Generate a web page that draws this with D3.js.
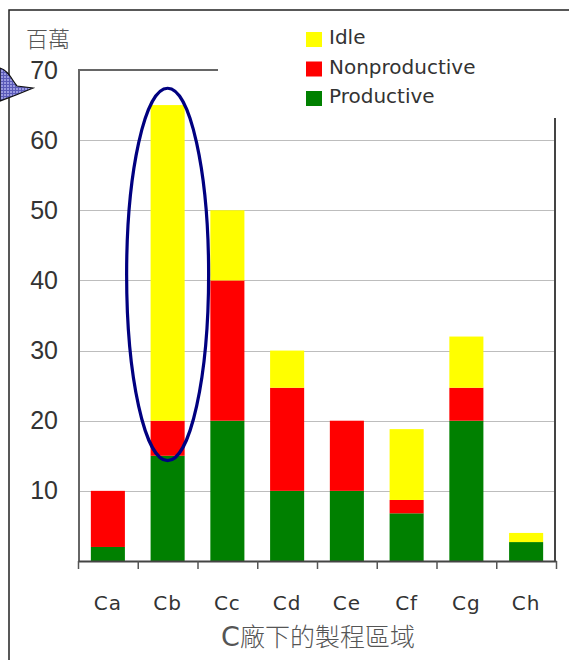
<!DOCTYPE html>
<html>
<head>
<meta charset="utf-8">
<script src="https://cdn.jsdelivr.net/npm/d3@7"></script>
<style>
  body { margin: 0; background: #fff; }
  svg { display: block; }
</style>
</head>
<body>
<svg id="chart" width="569" height="660"></svg>
<script>
// values in 百萬
const categories = ["Ca", "Cb", "Cc", "Cd", "Ce", "Cf", "Cg", "Ch"];
const productive = [2, 15, 20, 10, 10, 6.8, 20, 2.7];
const nonproductive = [8, 5, 20, 14.7, 10, 1.9, 4.7, 0];
const idle = [0, 45, 10, 5.3, 0, 10.1, 7.3, 1.3];
const yTicks = [10, 20, 30, 40, 50, 60, 70];
const seriesNames = ["Productive", "Nonproductive", "Idle"];
const seriesColors = ["#008000", "#ff0000", "#ffff00"];

const svg = d3.select("#chart");
const plotLeft = 78, plotRight = 556, plotTop = 70, plotBottom = 561;

const x = d3.scaleBand()
    .domain(categories)
    .range([plotLeft, plotRight])
    .paddingInner(0.43)
    .paddingOuter(0.215);

const y = d3.scaleLinear().domain([0, 70]).range([plotBottom, plotTop]);

const rows = categories.map((c, i) => ({
    cat: c,
    Productive: productive[i],
    Nonproductive: nonproductive[i],
    Idle: idle[i]
}));
const stacked = d3.stack().keys(seriesNames)(rows);

// outer frame of the slide
svg.append("path")
    .attr("d", "M9,660 L9,10 L569,10")
    .attr("fill", "none")
    .attr("stroke", "#222")
    .attr("stroke-width", 1.5);

// callout pointer at the left edge
const defs = svg.append("defs");
const pat = defs.append("pattern")
    .attr("id", "hatch")
    .attr("width", 3)
    .attr("height", 3)
    .attr("patternUnits", "userSpaceOnUse");
pat.append("rect").attr("width", 3).attr("height", 3).attr("fill", "#9a9ae0");
pat.append("path").attr("d", "M0,0.5 H3 M0.5,0 V3").attr("stroke", "#5a5ab8").attr("stroke-width", 1);

svg.append("path")
    .attr("d", "M0,68 C8,70 12,80 17,86 L33,88 L16,95 L0,101 Z")
    .attr("fill", "url(#hatch)")
    .attr("stroke", "#111")
    .attr("stroke-width", 1.2);

// gridlines
svg.append("g")
    .selectAll("line")
    .data(yTicks.filter(d => d < 70))
    .enter()
    .append("line")
    .attr("x1", plotLeft)
    .attr("x2", plotRight - 1)
    .attr("y1", d => Math.round(y(d)) + 0.5)
    .attr("y2", d => Math.round(y(d)) + 0.5)
    .attr("stroke", "#bdbdbd")
    .attr("stroke-width", 1);

// plot frame pieces (top and right)
svg.append("line")
    .attr("x1", plotLeft).attr("x2", 218)
    .attr("y1", plotTop).attr("y2", plotTop)
    .attr("stroke", "#666").attr("stroke-width", 2);
svg.append("line")
    .attr("x1", plotRight - 1).attr("x2", plotRight - 1)
    .attr("y1", 118).attr("y2", plotBottom)
    .attr("stroke", "#444").attr("stroke-width", 2);

// bars
svg.append("g")
    .selectAll("g")
    .data(stacked)
    .enter()
    .append("g")
    .attr("fill", (d, i) => seriesColors[i])
    .selectAll("rect")
    .data(d => d.map(v => ({ v, cat: v.data.cat })))
    .enter()
    .append("rect")
    .attr("x", d => x(d.cat))
    .attr("width", x.bandwidth())
    .attr("y", d => y(d.v[1]))
    .attr("height", d => y(d.v[0]) - y(d.v[1]));

// left axis
const yAxis = svg.append("g")
    .attr("transform", `translate(${plotLeft + 1},0)`)
    .call(d3.axisLeft(y).tickValues(yTicks).tickSize(0).tickPadding(21));
yAxis.select(".domain")
    .attr("d", `M0,${plotTop}V${plotBottom}`)
    .attr("stroke", "#666")
    .attr("stroke-width", 2);
yAxis.selectAll("text")
    .attr("font-family", "Liberation Sans, Arial, sans-serif")
    .attr("font-size", 25)
    .attr("fill", "#333");

// bottom axis: ticks sit between the bars
const xEdge = d3.scaleLinear().domain([0, categories.length]).range([plotLeft, plotRight]);
const xTickAxis = svg.append("g")
    .attr("transform", `translate(0,${plotBottom})`)
    .call(d3.axisBottom(xEdge).ticks(categories.length).tickSize(8).tickSizeOuter(0).tickFormat(""));
xTickAxis.select(".domain").attr("stroke", "#444").attr("stroke-width", 2);
xTickAxis.selectAll(".tick line").attr("stroke", "#555").attr("stroke-width", 1.5);

const xAxis = svg.append("g")
    .attr("transform", `translate(0,${plotBottom})`)
    .call(d3.axisBottom(x).tickSize(0).tickPadding(35));
xAxis.select(".domain").remove();
xAxis.selectAll("text")
    .attr("font-family", "DejaVu Sans, sans-serif")
    .attr("font-size", 20)
    .attr("letter-spacing", 1)
    .attr("fill", "#333");

// unit label
svg.append("text")
    .attr("x", 26)
    .attr("y", 47)
    .attr("font-family", "Noto Sans CJK TC, sans-serif")
    .attr("font-size", 22)
    .attr("font-weight", 300)
    .attr("fill", "#555")
    .text("百萬");

// x title
const title = svg.append("text")
    .attr("x", 318)
    .attr("y", 646)
    .attr("text-anchor", "middle")
    .attr("fill", "#555");
title.append("tspan")
    .attr("font-family", "DejaVu Sans, sans-serif")
    .attr("font-size", 27)
    .text("C");
title.append("tspan")
    .attr("font-family", "Noto Sans CJK TC, sans-serif")
    .attr("font-size", 25)
    .attr("font-weight", 300)
    .text("廠下的製程區域");

// legend (covers part of the top frame)
svg.append("rect")
    .attr("x", 219).attr("y", 11)
    .attr("width", 350).attr("height", 106)
    .attr("fill", "#fff");

const legendItems = ["Idle", "Nonproductive", "Productive"];
const legendColors = ["#ffff00", "#ff0000", "#008000"];
const legend = svg.append("g")
    .selectAll("g")
    .data(legendItems)
    .enter()
    .append("g")
    .attr("transform", (d, i) => `translate(306,${32 + i * 29.5})`);
legend.append("rect")
    .attr("width", 16)
    .attr("height", 15)
    .attr("fill", (d, i) => legendColors[i]);
legend.append("text")
    .attr("x", 23)
    .attr("y", 12)
    .attr("font-family", "DejaVu Sans, sans-serif")
    .attr("font-size", 20)
    .attr("fill", "#333")
    .text(d => d);

// highlight ellipse around Cb
const cx = x("Cb") + x.bandwidth() / 2;
const eTop = y(67.4), eBot = y(14.3);
svg.append("ellipse")
    .attr("cx", cx)
    .attr("cy", (eTop + eBot) / 2)
    .attr("rx", 41)
    .attr("ry", (eBot - eTop) / 2)
    .attr("fill", "none")
    .attr("stroke", "#000080")
    .attr("stroke-width", 3.2);
</script>
</body>
</html>
